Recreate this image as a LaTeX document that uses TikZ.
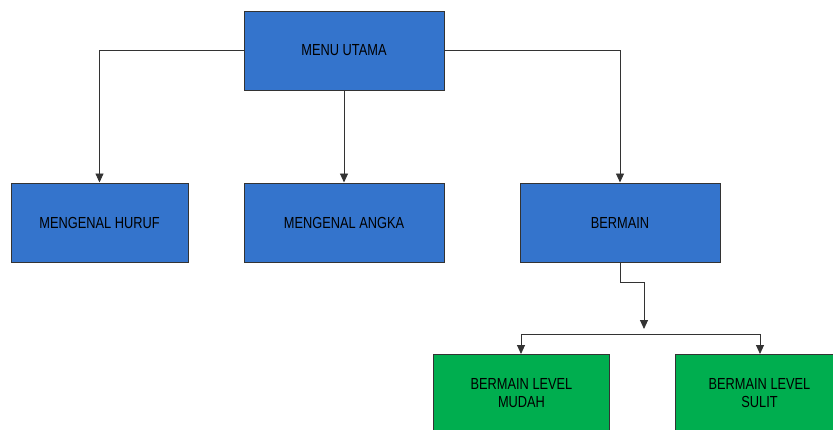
\documentclass[tikz,border=0pt]{standalone}
\usepackage{fontspec}
\setmainfont{Liberation Sans}[FakeStretch=0.8]
\usetikzlibrary{arrows.meta}
\definecolor{boxblue}{HTML}{3474CC}
\definecolor{boxgreen}{HTML}{00AE4F}
\definecolor{edgegray}{HTML}{333333}
\tikzset{
  boxbase/.style={draw=edgegray, line width=1pt, minimum height=79pt, inner sep=0pt, align=center, font=\fontsize{16}{18}\selectfont},
  bluebox/.style={boxbase, fill=boxblue, minimum width=200pt},
  greenbox/.style={boxbase, fill=boxgreen, minimum width=176pt, text height=26pt, text depth=0pt},
  conn/.style={draw=black!80, line width=0.9pt},
  arr/.style={conn, -{Triangle[length=9pt,width=8pt]}}
}
\begin{document}
\begin{tikzpicture}[x=1pt,y=-1pt]
\useasboundingbox (0,0) rectangle (833,429);
\node[bluebox] (menu) at (344,50.5) {MENU UTAMA};
\node[bluebox, minimum width=177pt] (huruf) at (99.5,222.5) {MENGENAL HURUF};
\node[bluebox] (angka) at (344,222.5) {MENGENAL ANGKA};
\node[bluebox] (bermain) at (620,222.5) {BERMAIN};
\node[greenbox, anchor=north west] (mudah) at (433,354) {BERMAIN LEVEL\\MUDAH};
\node[greenbox, anchor=north west, minimum width=168pt] (sulit) at (675,354) {BERMAIN LEVEL\\SULIT};
\coordinate (j1) at (620,282);
\coordinate (j2) at (644,282);
\coordinate (j3) at (644,329);
\coordinate (hl) at (521,334);
\coordinate (hr) at (760,334);
\draw[arr] (menu.west) -| (huruf.north);
\draw[arr] (menu.east) -| (bermain.north);
\draw[arr] (menu.south) -- (angka.north);
\draw[conn] (bermain.south) -- (j1) -- (j2);
\draw[arr] (j2) -- (j3);
\draw[conn] (hl) -- (hr);
\draw[arr] (hl) -- (hl |- mudah.north);
\draw[arr] (hr) -- (hr |- sulit.north);
\end{tikzpicture}
\end{document}
